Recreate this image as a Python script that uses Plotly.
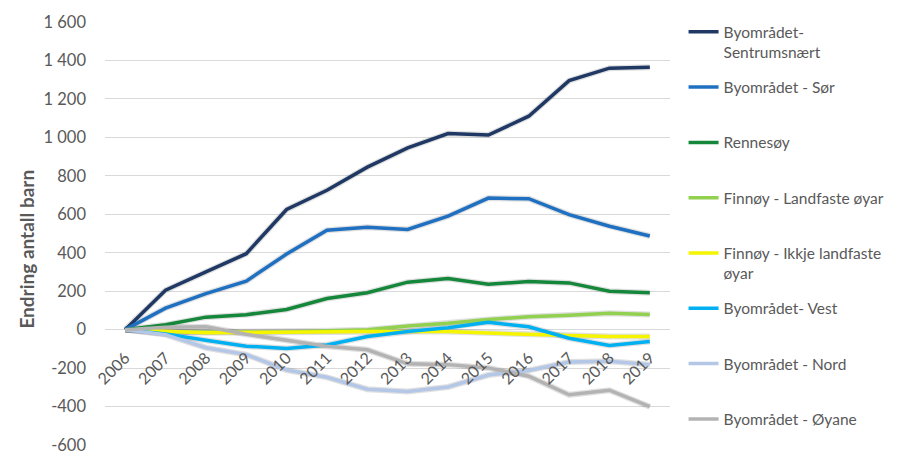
import plotly.graph_objects as go

years = [str(y) for y in range(2006, 2020)]

series_names = [
    "Byområdet-<br>Sentrumsnært",
    "Byområdet - Sør",
    "Rennesøy",
    "Finnøy - Landfaste øyar",
    "Finnøy - Ikkje landfaste<br>øyar",
    "Byområdet- Vest",
    "Byområdet - Nord",
    "Byområdet - Øyane",
]

sentrumsnaert = [0, 205, 300, 395, 625, 725, 845, 945, 1020, 1012, 1110, 1295, 1360, 1365]
sor = [0, 112, 187, 252, 393, 517, 533, 521, 590, 684, 681, 598, 538, 487]
rennesoy = [0, 25, 65, 78, 105, 162, 192, 247, 266, 236, 250, 243, 200, 192]
finnoy_landfaste = [0, -12, -12, -12, -12, -6, 0, 19, 33, 53, 67, 75, 85, 79]
finnoy_ikkje = [0, -8, -16, -15, -12, -12, -10, -10, -10, -18, -26, -31, -36, -36]
vest = [0, -22, -55, -86, -98, -80, -36, -10, 10, 38, 15, -45, -82, -62]
nord = [0, -26, -94, -130, -210, -248, -310, -322, -298, -236, -212, -168, -165, -182]
oyane = [0, 12, 15, -24, -55, -87, -105, -178, -182, -199, -242, -339, -315, -401]

values = [sentrumsnaert, sor, rennesoy, finnoy_landfaste, finnoy_ikkje, vest, nord, oyane]

colors = ["#1f3864", "#1f70c1", "#14873a", "#92d050", "#f5f500", "#00b0f0", "#b4c7e7", "#b3b3b3"]

y_title = "Endring antall barn"
y_ticks = list(range(-600, 1601, 200))
y_ticktext = ["-600", "-400", "-200", "0", "200", "400", "600", "800",
              "1 000", "1 200", "1 400", "1 600"]

fig = go.Figure()

# soft shadow under each line
for vals in values:
    fig.add_trace(go.Scatter(
        x=years, y=vals, mode="lines",
        line=dict(color="rgba(0,0,0,0.12)", width=6),
        showlegend=False, hoverinfo="skip",
    ))

n = len(series_names)
for i, (name, vals, col) in enumerate(zip(series_names, values, colors)):
    # pad single-line entries to two lines so legend rows are evenly spaced
    label = name if ("<br>" in name or i == n - 1) else name + "<br>\u00a0"
    fig.add_trace(go.Scatter(
        x=years, y=vals, mode="lines", name=label,
        legendgroup=f"g{i}",
        line=dict(color=col, width=3.5),
    ))

# y-axis title placed like the original (slightly below the axis centre)
fig.add_annotation(
    text=f"<b>{y_title}</b>", textangle=-90,
    xref="paper", yref="paper", x=-0.138, y=0.462,
    xanchor="center", yanchor="middle", showarrow=False,
    font=dict(size=19, color="#595959", family="Lato"),
)

# page body has an 8px margin; figure is sized so it fills the window exactly
fig.update_layout(
    width=889, height=454,
    margin=dict(l=97, r=227, t=7, b=17),
    paper_bgcolor="white", plot_bgcolor="white",
    font=dict(family="Lato", color="#595959", size=14),
    showlegend=True,
    legend=dict(
        x=1.024, y=1.016, xanchor="left", yanchor="top",
        valign="top", tracegroupgap=12,
        font=dict(size=15.5, color="#595959"),
        itemwidth=30,
        maxheight=454,
    ),
    xaxis=dict(
        type="category", automargin=False,
        anchor="free", position=600 / 2200,
        tickangle=-45, showgrid=False, zeroline=False,
        showline=False, ticks="",
        ticklabelstandoff=15,
        tickfont=dict(size=16, color="#595959"),
        range=[-0.5, 13.5],
    ),
    yaxis=dict(
        range=[-600, 1600], tickvals=y_ticks, ticktext=y_ticktext,
        automargin=False,
        showgrid=True, gridcolor="#d9d9d9", gridwidth=1,
        zeroline=True, zerolinecolor="#d9d9d9", zerolinewidth=1,
        showline=False, ticks="",
        ticklabelstandoff=18,
        tickfont=dict(size=16.5, color="#595959"),
    ),
)

fig.write_html("out.html")
